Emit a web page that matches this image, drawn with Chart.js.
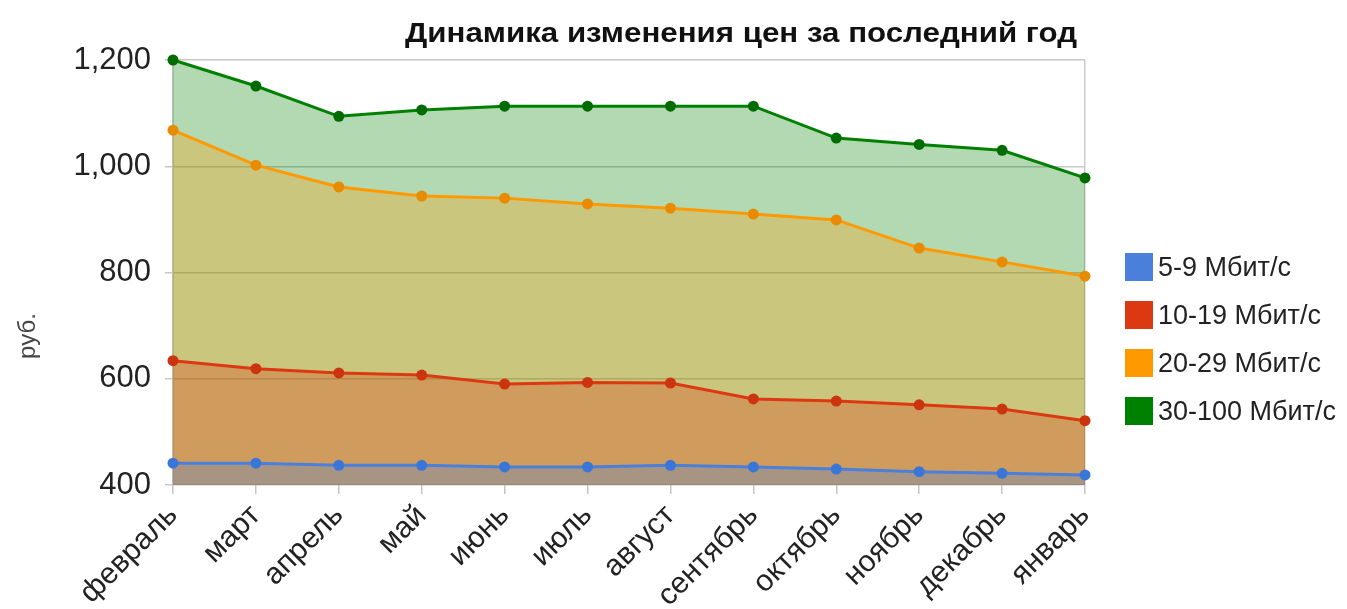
<!DOCTYPE html>
<html>
<head>
<meta charset="utf-8">
<script src="https://cdn.jsdelivr.net/npm/chart.js@4/dist/chart.umd.min.js"></script>
<style>
  html, body { margin: 0; padding: 0; background: #fff; }
  #wrap { position: relative; width: 1347px; height: 609px; }
  #legend { position: absolute; left: 1125px; top: 243px; font-family: "Liberation Sans", Arial, sans-serif; font-size: 27px; color: #222; }
  .item { display: flex; align-items: center; height: 48px; white-space: nowrap; }
  .box { width: 28px; height: 28px; margin-right: 5px; flex: none; }
</style>
</head>
<body>
<div id="wrap">
  <canvas id="c" width="1347" height="609"></canvas>
  <div id="legend"></div>
</div>
<script>
const titleText = 'Динамика изменения цен за последний год';
const yAxisTitle = 'руб.';
const categories = ['февраль','март','апрель','май','июнь','июль','август','сентябрь','октябрь','ноябрь','декабрь','январь'];
const seriesNames = ['5-9 Мбит/с', '10-19 Мбит/с', '20-29 Мбит/с', '30-100 Мбит/с'];
const s5_9    = [441, 441, 437, 437, 434, 434, 437, 434, 430, 425, 422, 419];
const s10_19  = [634, 619, 611, 607, 590, 593, 592, 562, 558, 551, 543, 521];
const s20_29  = [1068, 1002, 961, 944, 940, 929, 921, 910, 899, 846, 820, 793];
const s30_100 = [1200, 1151, 1094, 1106, 1113, 1113, 1113, 1113, 1053, 1041, 1030, 978];
const yTicks = [400, 600, 800, 1000, 1200];

const lineColors  = ['#4a80dc', '#dc3912', '#ff9900', '#008000'];
const pointColors = ['#3a76d8', '#cc330f', '#e88b00', '#006c00'];
const fillColors  = ['rgba(74,128,220,0.3)', 'rgba(220,57,18,0.3)', 'rgba(255,153,0,0.3)', 'rgba(0,128,0,0.3)'];
const seriesData = [s5_9, s10_19, s20_29, s30_100];

const FONT = '"Liberation Sans", Arial, sans-serif';

const datasets = seriesData.map((d, i) => ({
  label: seriesNames[i],
  data: d,
  borderColor: lineColors[i],
  backgroundColor: fillColors[i],
  pointBackgroundColor: pointColors[i],
  pointBorderColor: pointColors[i],
  pointRadius: 5.5,
  pointBorderWidth: 0,
  borderWidth: 3,
  tension: 0,
  fill: 'start',
  clip: 10
}));

const textPlugin = {
  id: 'texts',
  afterDraw(chart) {
    const ctx = chart.ctx;
    ctx.save();
    ctx.fillStyle = '#111';
    ctx.font = 'bold 28px ' + FONT;
    ctx.textAlign = 'center';
    ctx.textBaseline = 'alphabetic';
    const w = ctx.measureText(titleText).width;
    ctx.translate(741, 42);
    ctx.scale(672 / w, 1);
    ctx.fillText(titleText, 0, 0);
    ctx.restore();
    ctx.save();
    ctx.translate(28, 336);
    ctx.rotate(-Math.PI / 2);
    ctx.fillStyle = '#444';
    ctx.font = '24px ' + FONT;
    ctx.textAlign = 'center';
    ctx.textBaseline = 'middle';
    ctx.fillText(yAxisTitle, 0, 0);
    ctx.restore();
  }
};

new Chart(document.getElementById('c'), {
  type: 'line',
  data: { labels: categories, datasets },
  options: {
    responsive: false,
    animation: false,
    events: [],
    layout: { padding: { top: 60, right: 262, left: 0, bottom: 0 } },
    plugins: { legend: { display: false }, title: { display: false }, tooltip: { enabled: false } },
    scales: {
      x: {
        offset: false,
        afterFit(scale) { scale.height = 124; },
        grid: {
          drawOnChartArea: true,
          color: (ctx) => (ctx.index === categories.length - 1 ? '#cccccc' : 'rgba(0,0,0,0)'),
          tickColor: '#c4c4c4',
          tickLength: 9,
          lineWidth: 1.5
        },
        border: { display: false },
        ticks: {
          minRotation: 45, maxRotation: 45, autoSkip: false,
          padding: 4,
          color: '#222',
          font: { family: FONT, size: 30 }
        }
      },
      y: {
        min: 400, max: 1200,
        afterFit(scale) { scale.width = 173; },
        afterBuildTicks(scale) { scale.ticks = yTicks.map(v => ({ value: v })); },
        grid: { color: '#c8c8c8', tickColor: '#c8c8c8', tickLength: 8, lineWidth: 1.5 },
        border: { display: true, color: '#bbbbbb', width: 1.5 },
        ticks: {
          padding: 14,
          color: '#222',
          font: { family: FONT, size: 31 },
          callback: (v) => v.toLocaleString('en-US')
        }
      }
    }
  },
  plugins: [textPlugin]
});

const legend = document.getElementById('legend');
seriesNames.forEach((name, i) => {
  const item = document.createElement('div');
  item.className = 'item';
  const box = document.createElement('div');
  box.className = 'box';
  box.style.background = lineColors[i];
  const label = document.createElement('span');
  label.textContent = name;
  item.appendChild(box);
  item.appendChild(label);
  legend.appendChild(item);
});
</script>
</body>
</html>
